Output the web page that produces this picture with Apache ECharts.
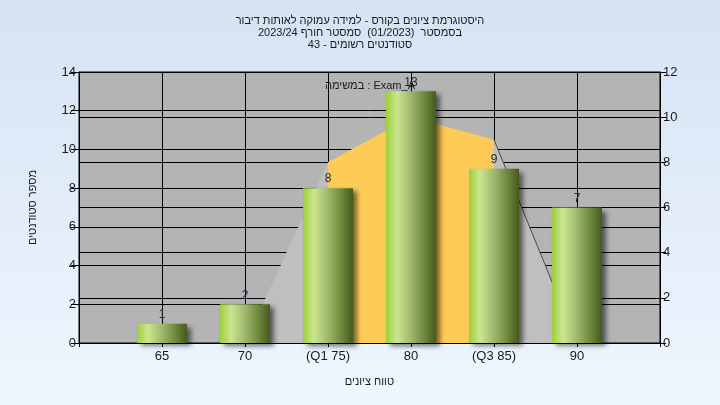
<!DOCTYPE html>
<html><head><meta charset="utf-8">
<script src="https://cdn.jsdelivr.net/npm/echarts@6/dist/echarts.min.js"></script>
<style>html,body{margin:0;padding:0;}#c{width:720px;height:405px;}</style>
</head><body><div id="c"></div>
<script>
const titleLines = [
  'היסטוגרמת ציונים בקורס - למידה עמוקה לאותות דיבור',
  'בסמסטר  (01/2023)  סמסטר חורף 2023/24',
  'סטודנטים רשומים - 43'
];
const noteText = 'במשימה : Exam_A';
const xAxisName = 'טווח ציונים';
const yAxisName = 'מספר סטודנטים';
const categories = ['', '65', '70', '(Q1 75)', '80', '(Q3 85)', '90', ''];
const studentCounts = [null, 1, 2, 8, 13, 9, 7, null];
const curveValues = [null, null, 0, 8, 10, 9, 0, null];
const iqrValues = [null, null, null, 8, 10, 9, null, null];
const edgeValues = [null, null, null, null, null, 9, 0, null];
const leftTicks = {min: 0, max: 14, interval: 2};
const rightTicks = {min: 0, max: 12, interval: 2};

const FONT = '"Liberation Sans", Arial, sans-serif';
const chart = echarts.init(document.getElementById('c'), null, {renderer: 'canvas'});
chart.setOption({
  animation: false,
  backgroundColor: new echarts.graphic.LinearGradient(0, 0, 0, 1, [
    {offset: 0, color: '#d5e3f4'}, {offset: 1, color: '#eff6fe'}
  ]),
  textStyle: {fontFamily: FONT},
  title: {
    text: titleLines.join('\n'),
    left: 'center', top: 10,
    textStyle: {fontSize: 11, fontWeight: 'normal', color: '#1a1a1a', lineHeight: 12, fontFamily: FONT, align: 'center'}
  },
  graphic: [{
    type: 'text', left: 325, top: 80, z: 100,
    style: {text: noteText, fill: '#1a1a1a', font: '11px ' + FONT}
  }],
  grid: {left: 79, right: 60, top: 72, bottom: 62, show: true, backgroundColor: '#b4b4b4', borderColor: '#000', borderWidth: 1},
  xAxis: {
    type: 'category', data: categories, boundaryGap: false,
    name: xAxisName, nameLocation: 'middle', nameGap: 33,
    nameTextStyle: {fontSize: 11, color: '#1a1a1a'},
    axisLine: {lineStyle: {color: '#000'}},
    axisTick: {show: true, length: 4, interval: 0, lineStyle: {color: '#000'}},
    axisLabel: {interval: 0, fontSize: 13, color: '#1a1a1a', margin: 7},
    splitLine: {show: true, interval: 0, lineStyle: {color: '#000', width: 1}}
  },
  yAxis: [{
    type: 'value', min: leftTicks.min, max: leftTicks.max, interval: leftTicks.interval,
    name: yAxisName, nameLocation: 'middle', nameGap: 41, nameRotate: 90,
    nameTextStyle: {fontSize: 11, color: '#1a1a1a'},
    axisLine: {show: true, lineStyle: {color: '#000'}},
    axisTick: {show: true, length: 8, lineStyle: {color: '#000'}},
    axisLabel: {fontSize: 13, color: '#1a1a1a', margin: 3},
    splitLine: {show: true, lineStyle: {color: '#000', width: 1}}
  }, {
    type: 'value', position: 'right', min: rightTicks.min, max: rightTicks.max, interval: rightTicks.interval,
    axisLine: {show: true, lineStyle: {color: '#000'}},
    axisTick: {show: true, length: 6, lineStyle: {color: '#000'}},
    axisLabel: {fontSize: 13, color: '#1a1a1a', margin: 3},
    splitLine: {show: true, lineStyle: {color: '#000', width: 1}}
  }],
  series: [{
    type: 'line', yAxisIndex: 1, data: curveValues, z: 1, silent: true,
    showSymbol: false, symbol: 'none', lineStyle: {width: 0},
    areaStyle: {color: '#bfbfbf', opacity: 1}
  }, {
    type: 'line', yAxisIndex: 1, data: iqrValues, z: 2, silent: true,
    showSymbol: false, symbol: 'none', lineStyle: {width: 0},
    areaStyle: {color: '#ffcb57', opacity: 1}
  }, {
    type: 'line', yAxisIndex: 1, data: edgeValues, z: 2, silent: true,
    showSymbol: false, symbol: 'none', lineStyle: {width: 1, color: '#4a4a4a'}
  }, {
    type: 'bar', yAxisIndex: 0, data: studentCounts, barWidth: 50, z: 5,
    itemStyle: {
      color: new echarts.graphic.LinearGradient(0, 0, 1, 0, [
        {offset: 0, color: '#9ccf3a'},
        {offset: 0.22, color: '#cbe690'},
        {offset: 0.5, color: '#9fb86c'},
        {offset: 0.78, color: '#6c863c'},
        {offset: 1, color: '#45591d'}
      ]),
      shadowColor: 'rgba(0,0,0,0.55)', shadowBlur: 5, shadowOffsetX: 4, shadowOffsetY: 3
    },
    label: {show: true, position: 'top', distance: 3, fontSize: 12, color: '#1c2440'}
  }]
});
</script></body></html>
